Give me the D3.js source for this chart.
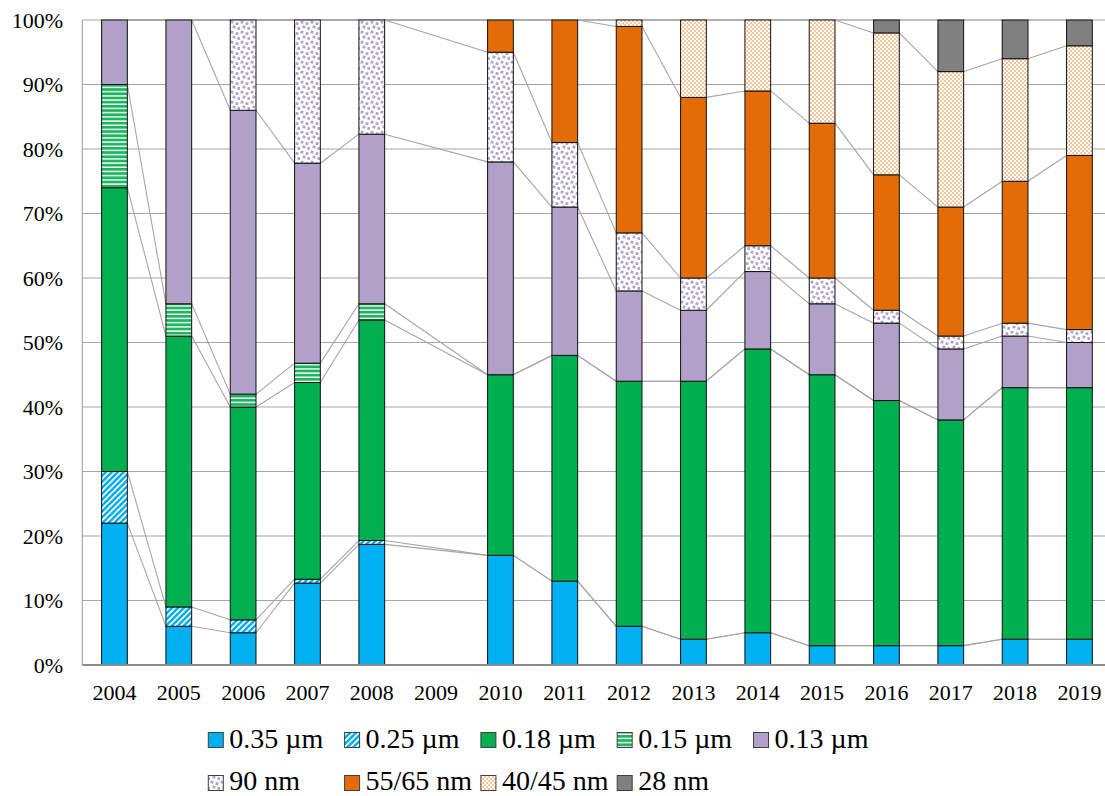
<!DOCTYPE html>
<html>
<head>
<meta charset="utf-8">
<script src="https://cdn.jsdelivr.net/npm/d3@7"></script>
<style>
  html, body { margin: 0; padding: 0; background: #fff; }
  svg { display: block; }
</style>
</head>
<body>
<svg id="chart" width="1105" height="796"></svg>
<script>
// ---- data ----
const years = ["2004","2005","2006","2007","2008","2009","2010","2011","2012","2013","2014","2015","2016","2017","2018","2019"];
const seriesNames = ["0.35 µm","0.25 µm","0.18 µm","0.15 µm","0.13 µm","90 nm","55/65 nm","40/45 nm","28 nm"];
const s035  = [22, 6, 5, 12.7, 18.7, null, 17, 13, 6, 4, 5, 3, 3, 3, 4, 4];
const s025  = [8, 3, 2, 0.6, 0.6, null, 0, 0, 0, 0, 0, 0, 0, 0, 0, 0];
const s018  = [44, 42, 33, 30.5, 34.2, null, 28, 35, 38, 40, 44, 42, 38, 35, 39, 39];
const s015  = [16, 5, 2, 3, 2.5, null, 0, 0, 0, 0, 0, 0, 0, 0, 0, 0];
const s013  = [10, 44, 44, 31, 26.3, null, 33, 23, 14, 11, 12, 11, 12, 11, 8, 7];
const s90   = [0, 0, 14, 22.2, 17.7, null, 17, 10, 9, 5, 4, 4, 2, 2, 2, 2];
const s5565 = [0, 0, 0, 0, 0, null, 5, 19, 32, 28, 24, 24, 21, 20, 22, 27];
const s4045 = [0, 0, 0, 0, 0, null, 0, 0, 1, 12, 11, 16, 22, 21, 19, 17];
const s28   = [0, 0, 0, 0, 0, null, 0, 0, 0, 0, 0, 0, 2, 8, 6, 4];
const yTicks = [0, 10, 20, 30, 40, 50, 60, 70, 80, 90, 100];

const seriesValues = [s035, s025, s018, s015, s013, s90, s5565, s4045, s28];
const fills = ["#00B0F0", "url(#p025)", "#00B050", "url(#p015)", "#B1A0C7", "url(#p90)", "#E36C09", "url(#p4045)", "#808080"];

(function () {
// ---- build rows ----
const rows = years.map((yr, i) => {
  const r = { year: yr, empty: seriesValues.every(s => s[i] == null) };
  seriesNames.forEach((n, k) => { r[n] = seriesValues[k][i] == null ? 0 : seriesValues[k][i]; });
  return r;
});
const stacked = d3.stack().keys(seriesNames)(rows);

// ---- layout ----
const svg = d3.select("#chart");
const pLeft = 82.3, pRight = 1111.6, pTop = 20, pBottom = 665;
const x = d3.scaleBand().domain(years).range([pLeft, pRight]).paddingInner(0.6).paddingOuter(0.3);
const y = d3.scaleLinear().domain([0, 100]).range([pBottom, pTop]);
const bw = x.bandwidth();

// ---- patterns ----
const defs = svg.append("defs");
const p1 = defs.append("pattern").attr("id", "p025").attr("patternUnits", "userSpaceOnUse")
  .attr("width", 4.2).attr("height", 4.2).attr("patternTransform", "rotate(45)");
p1.append("rect").attr("width", 4.2).attr("height", 4.2).attr("fill", "#fff");
p1.append("rect").attr("width", 2.5).attr("height", 4.2).attr("fill", "#00B0F0");
const p2 = defs.append("pattern").attr("id", "p015").attr("patternUnits", "userSpaceOnUse")
  .attr("width", 4).attr("height", 4.2);
p2.append("rect").attr("width", 4).attr("height", 4.2).attr("fill", "#fff");
p2.append("rect").attr("width", 4).attr("height", 2.8).attr("fill", "#1DB55F");
const p3 = defs.append("pattern").attr("id", "p90").attr("patternUnits", "userSpaceOnUse")
  .attr("width", 10).attr("height", 10);
p3.append("rect").attr("width", 10).attr("height", 10).attr("fill", "#fff");
[[0.6, 0.8], [5.6, 2.2], [2.6, 5.6], [7.4, 7.0]].forEach(([a, b]) => {
  p3.append("rect").attr("x", a).attr("y", b).attr("width", 2.8).attr("height", 2.8)
    .attr("fill", "#B3A2CA").attr("transform", `rotate(12 ${a + 1.4} ${b + 1.4})`);
});
const p4 = defs.append("pattern").attr("id", "p4045").attr("patternUnits", "userSpaceOnUse")
  .attr("width", 4).attr("height", 4);
p4.append("rect").attr("width", 4).attr("height", 4).attr("fill", "#fff");
p4.append("rect").attr("x", 0.3).attr("y", 0.3).attr("width", 1.5).attr("height", 1.5).attr("fill", "#F39B4E");
p4.append("rect").attr("x", 2.3).attr("y", 2.3).attr("width", 1.5).attr("height", 1.5).attr("fill", "#F39B4E");

// ---- gridlines ----
svg.append("g").selectAll("line").data(yTicks.filter(t => t > 0)).join("line")
  .attr("x1", pLeft).attr("x2", 1105)
  .attr("y1", d => y(d)).attr("y2", d => y(d))
  .attr("stroke", "#A6A6A6").attr("stroke-width", 1.2);
svg.append("line").attr("x1", pLeft).attr("x2", pLeft).attr("y1", pTop).attr("y2", pBottom)
  .attr("stroke", "#A6A6A6").attr("stroke-width", 1.2);

// ---- series lines ----
const nonEmpty = rows.map((r, i) => i).filter(i => !rows[i].empty);
const gl = svg.append("g");
stacked.forEach(layer => {
  for (let k = 0; k < nonEmpty.length - 1; k++) {
    const i = nonEmpty[k], j = nonEmpty[k + 1];
    gl.append("line")
      .attr("x1", x(years[i]) + bw).attr("y1", y(layer[i][1]))
      .attr("x2", x(years[j])).attr("y2", y(layer[j][1]))
      .attr("stroke", "#A6A6A6").attr("stroke-width", 1.1);
  }
});

// ---- bars ----
const gb = svg.append("g");
stacked.forEach((layer, k) => {
  gb.append("g").selectAll("rect")
    .data(layer.filter(d => !d.data.empty && d[1] - d[0] > 0))
    .join("rect")
    .attr("x", d => x(d.data.year))
    .attr("width", bw)
    .attr("y", d => y(d[1]))
    .attr("height", d => y(d[0]) - y(d[1]))
    .attr("fill", fills[k])
    .attr("stroke", "#111")
    .attr("stroke-width", 1);
});

// ---- base axis ----
svg.append("line").attr("x1", pLeft).attr("x2", 1105).attr("y1", pBottom).attr("y2", pBottom)
  .attr("stroke", "#8C8C8C").attr("stroke-width", 1.8);

// ---- axis labels ----
const font = "'Liberation Serif', 'Times New Roman', serif";
svg.append("g").selectAll("text").data(yTicks).join("text")
  .attr("x", 63).attr("y", d => y(d) + 7.5)
  .attr("text-anchor", "end").attr("font-family", font).attr("font-size", 22).attr("fill", "#000")
  .text(d => d + "%");
svg.append("g").selectAll("text").data(years).join("text")
  .attr("x", d => x(d) + bw / 2).attr("y", 699.5)
  .attr("text-anchor", "middle").attr("font-family", font).attr("font-size", 22).attr("fill", "#000")
  .text(d => d);

// ---- legend ----
const legX = [208.3, 344.6, 480.9, 617.2, 753.5];
const legend = svg.append("g");
seriesNames.forEach((n, k) => {
  const row = k < 5 ? 0 : 1;
  const col = k < 5 ? k : k - 5;
  const lx = legX[col];
  const ly = row === 0 ? 732.5 : 775.5;
  legend.append("rect").attr("x", lx).attr("y", ly).attr("width", 15).attr("height", 15)
    .attr("fill", fills[k]).attr("stroke", "#404040").attr("stroke-width", 1);
  legend.append("text").attr("x", lx + 21).attr("y", row === 0 ? 748 : 789.5)
    .attr("font-family", font).attr("font-size", 28).attr("fill", "#000").text(n);
});
})();
</script>
</body>
</html>
